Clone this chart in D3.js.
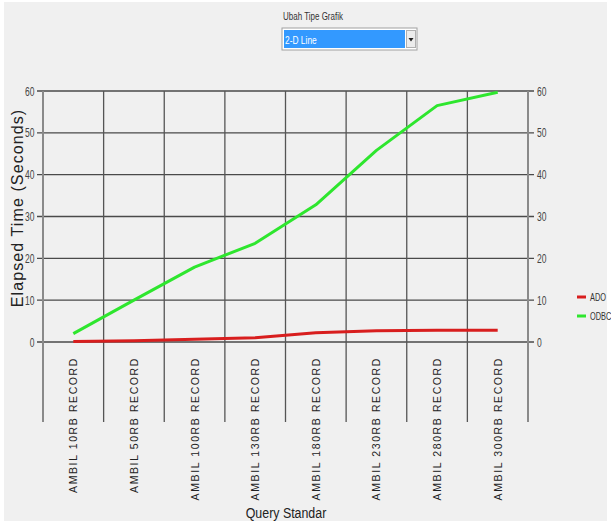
<!DOCTYPE html>
<html>
<head>
<meta charset="utf-8">
<script src="https://cdn.jsdelivr.net/npm/d3@7"></script>
<style>
  html, body { margin: 0; padding: 0; background: #fff; }
  svg { display: block; }
</style>
</head>
<body>
<div id="chart"></div>
<script>
// data
const categories = ["AMBIL 10RB RECORD", "AMBIL 50RB RECORD", "AMBIL 100RB RECORD", "AMBIL 130RB RECORD",
                    "AMBIL 180RB RECORD", "AMBIL 230RB RECORD", "AMBIL 280RB RECORD", "AMBIL 300RB RECORD"];
const adoValues = [0.1, 0.3, 0.65, 1.0, 2.2, 2.7, 2.8, 2.8];
const odbcValues = [2.0, 10.0, 17.9, 23.6, 32.8, 45.8, 56.5, 59.7];
const seriesNames = ["ADO", "ODBC"];
const seriesColors = ["#d81e1e", "#2ee62e"];
const yTicks = [0, 10, 20, 30, 40, 50, 60];

const width = 611, height = 523;
const sans = "'Liberation Sans', Arial, sans-serif";

// condensed text: a normal sans squeezed sideways
function narrowText(parent, x, y, str, size, anchor, fill, sx = 0.74) {
    return parent.append("text")
        .attr("transform", `translate(${x},${y}) scale(${sx},1)`)
        .attr("text-anchor", anchor)
        .style("font-family", sans)
        .style("font-size", size + "px")
        .style("fill", fill)
        .text(str);
}

const svg = d3.select("#chart").append("svg")
    .attr("width", width)
    .attr("height", height);

// grey panel with a thin white border
svg.append("rect")
    .attr("x", 4).attr("y", 2)
    .attr("width", width - 8).attr("height", height - 4)
    .attr("fill", "#f0f0f0");

// chart type picker
narrowText(svg, 283, 20, "Ubah Tipe Grafik", 10, "start", "#333", 0.8);
svg.append("rect")
    .attr("x", 282).attr("y", 28).attr("width", 135).attr("height", 22)
    .attr("fill", "#fff").attr("stroke", "#a0a0a0");
svg.append("rect")
    .attr("x", 284).attr("y", 30).attr("width", 121).attr("height", 18)
    .attr("fill", "#3399ff");
narrowText(svg, 285, 44, "2-D Line", 10.5, "start", "#fff", 0.8);
svg.append("rect")
    .attr("x", 406.5).attr("y", 30.5).attr("width", 9).attr("height", 17)
    .attr("fill", "#ececec").attr("stroke", "#b0b0b0");
svg.append("path")
    .attr("d", "M408.5,38 L413.5,38 L411,41.5 Z")
    .attr("fill", "#222");

// scales
const x = d3.scaleBand().domain(categories).range([43, 528]);
const y = d3.scaleLinear().domain([0, 60]).range([342, 91]);
const xMid = d => x(d) + x.bandwidth() / 2;

// horizontal grid lines with ticks on both sides
svg.append("g")
    .selectAll("line")
    .data(yTicks)
    .join("line")
    .attr("x1", 37).attr("x2", 534)
    .attr("y1", d => y(d)).attr("y2", d => y(d))
    .attr("stroke", "#4a4a4a").attr("stroke-width", 1.3);

// vertical separators between categories
const edges = categories.map(d => x(d)).concat([x.range()[1]]);
svg.append("g")
    .selectAll("line")
    .data(edges)
    .join("line")
    .attr("x1", d => d).attr("x2", d => d)
    .attr("y1", y(60)).attr("y2", 422)
    .attr("stroke", (d, i) => (i === 0 || i === edges.length - 1) ? "#8a8a8a" : "#555")
    .attr("stroke-width", (d, i) => (i === 0 || i === edges.length - 1) ? 2 : 1.3);

// y tick labels, left and right
yTicks.forEach(t => {
    narrowText(svg, 34.5, y(t) + 4.5, t, 12.5, "end", "#444", 0.68);
    narrowText(svg, 537, y(t) + 4.5, t, 12.5, "start", "#444", 0.68);
});

// category labels, rotated
svg.append("g")
    .selectAll("text")
    .data(categories)
    .join("text")
    .attr("transform", d => `translate(${xMid(d) + 4},357) rotate(-90)`)
    .attr("text-anchor", "end")
    .style("font-family", sans)
    .style("font-size", "10.5px")
    .style("letter-spacing", "1.6px")
    .style("fill", "#222")
    .text(d => d);

// axis titles
svg.append("text")
    .attr("transform", "translate(23,208) rotate(-90)")
    .attr("text-anchor", "middle")
    .style("font-family", sans)
    .style("font-size", "16px")
    .style("letter-spacing", "1.1px")
    .style("fill", "#222")
    .text("Elapsed Time (Seconds)");
narrowText(svg, 286, 518, "Query Standar", 15.5, "middle", "#222", 0.8);

// lines
const line = d3.line()
    .x((d, i) => xMid(categories[i]))
    .y(d => y(d));
svg.append("g")
    .selectAll("path")
    .data([adoValues, odbcValues])
    .join("path")
    .attr("d", line)
    .attr("fill", "none")
    .attr("stroke", (d, i) => seriesColors[i])
    .attr("stroke-width", 3)
    .attr("stroke-linejoin", "round");

// legend
const legend = svg.append("g")
    .selectAll("g")
    .data(seriesNames)
    .join("g")
    .attr("transform", (d, i) => `translate(577,${297 + i * 19})`);
legend.append("line")
    .attr("x1", 0).attr("x2", 9)
    .attr("stroke", (d, i) => seriesColors[i])
    .attr("stroke-width", 3);
legend.each(function(d) {
    narrowText(d3.select(this), 13, 4, d, 10, "start", "#333", 0.74);
});
</script>
</body>
</html>
